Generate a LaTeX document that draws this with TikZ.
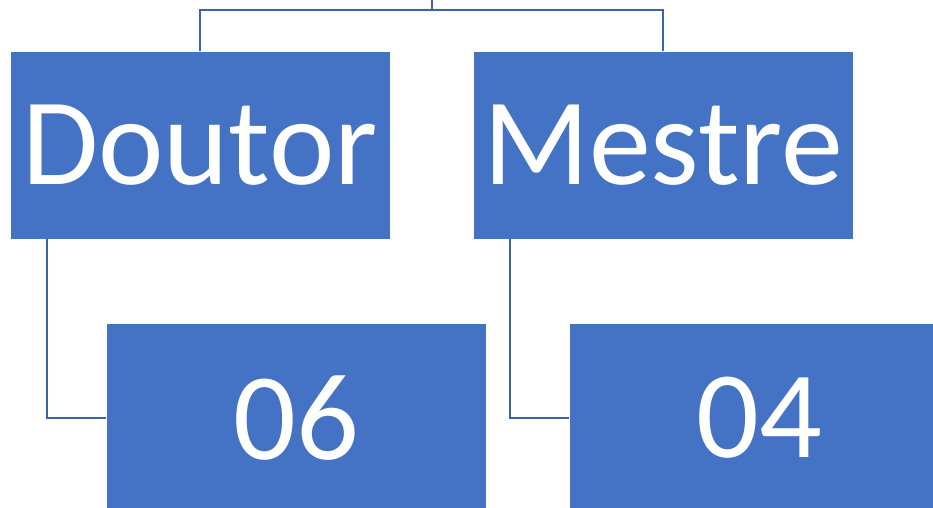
\documentclass[tikz,border=0pt]{standalone}
\usepackage{fontspec}
\setmainfont{Carlito}
\definecolor{boxblue}{HTML}{4472C4}
\definecolor{linkblue}{HTML}{3A63AE}
\tikzset{
  bluebox/.style={rectangle, fill=boxblue, draw=white, line width=0.8pt, minimum width=380pt, minimum height=#1, inner sep=0pt, text=white, font=\fontsize{124}{124}\selectfont},
  link/.style={draw=linkblue, line width=2.2pt}
}
\begin{document}
\begin{tikzpicture}[x=1pt,y=-1pt]
\clip (0,0) rectangle (933,507);
\fill[white] (0,0) rectangle (933,507);
\coordinate (root) at (432,-2);
\node[bluebox=188pt] (D) at (200,145) {Doutor};
\node[bluebox=188pt] (M) at (663,145) {Mestre};
\node[bluebox=190pt] (S) at (296.5,418) {06};
\node[bluebox=190pt] (Q) at (759,418) {04};
\draw[link] (root) -- ++(0,12) -| (D.north);
\draw[link] (root) -- ++(0,12) -| (M.north);
\draw[link] (D.south west) ++(37,0) |- (S.west);
\draw[link] (M.south west) ++(37,0) |- (Q.west);
\end{tikzpicture}
\end{document}
